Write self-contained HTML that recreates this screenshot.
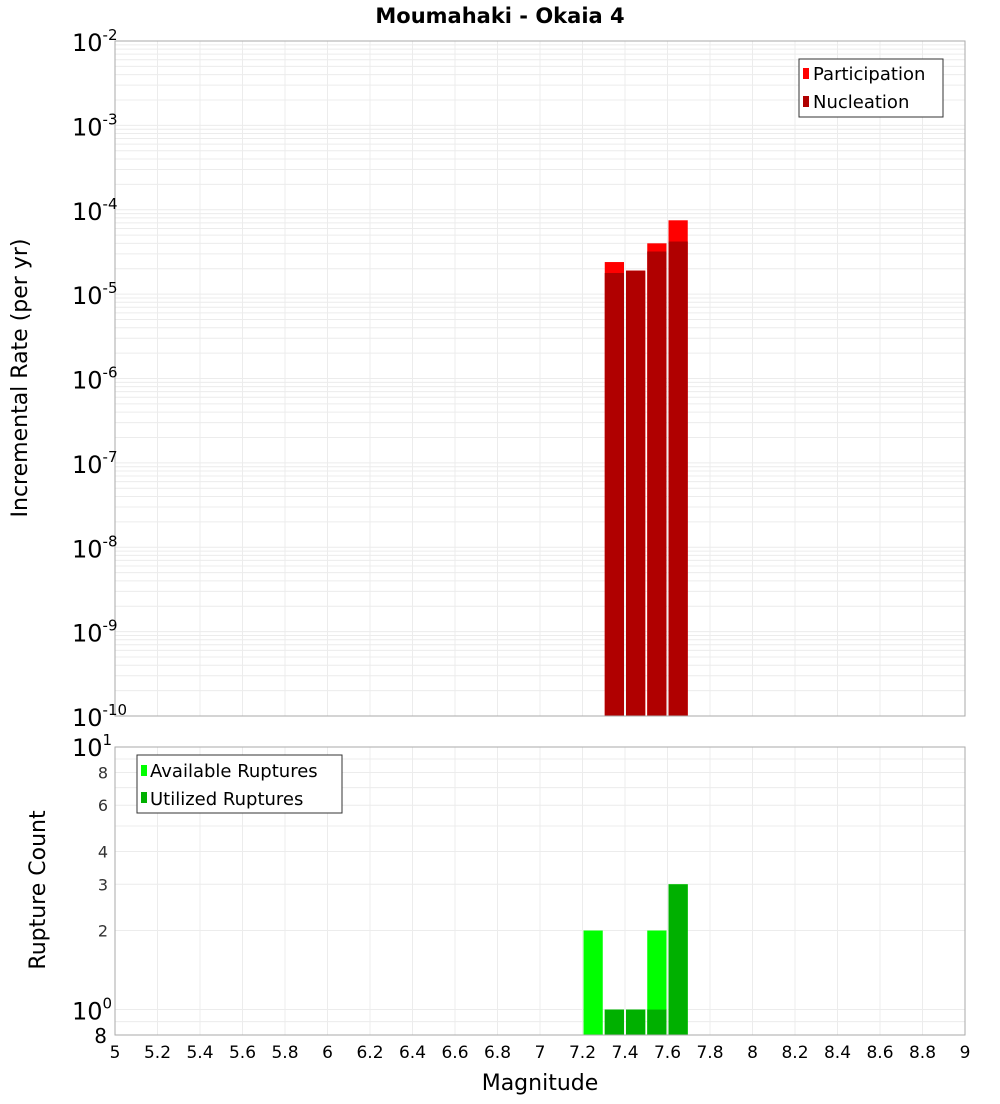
<!DOCTYPE html>
<html><head><meta charset="utf-8"><style>
body{margin:0;background:#fff;font-family:"DejaVu Sans","Liberation Sans",sans-serif}
svg text{font-family:"DejaVu Sans","Liberation Sans",sans-serif}
</style></head><body>
<svg id="c" width="1000" height="1100" xmlns="http://www.w3.org/2000/svg">
<text x="500" y="23" text-anchor="middle" font-size="21" font-weight="bold">Moumahaki - Okaia 4</text>
<text transform="translate(27,378) rotate(-90)" text-anchor="middle" font-size="22">Incremental Rate (per yr)</text>
<text transform="translate(45,890) rotate(-90)" text-anchor="middle" font-size="22">Rupture Count</text>
<text x="540" y="1090" text-anchor="middle" font-size="22">Magnitude</text>
<g id="g"></g>
</svg>
<script>
const magBins=[7.35,7.45,7.55,7.65];
const participation=[2.4e-5,1.9e-5,4.0e-5,7.5e-5];
const nucleation=[1.78e-5,1.9e-5,3.2e-5,4.2e-5];
const countBins=[7.25,7.35,7.45,7.55,7.65];
const available=[2,1,1,2,3];
const utilized=[0,1,1,1,3];
const xTicks=[5,5.2,5.4,5.6,5.8,6,6.2,6.4,6.6,6.8,7,7.2,7.4,7.6,7.8,8,8.2,8.4,8.6,8.8,9];
const rateExps=[-2,-3,-4,-5,-6,-7,-8,-9,-10];
const countTicks=[8,6,4,3,2];

const NS="http://www.w3.org/2000/svg",g=document.getElementById('g');
function el(t,a,txt){const e=document.createElementNS(NS,t);for(const k in a)e.setAttribute(k,a[k]);if(txt!==undefined)e.textContent=txt;g.appendChild(e);return e;}
const X0=115,X1=965;
const xs=m=>X0+(m-5)/4*(X1-X0);
const T0=41,T1=716;
const yT=v=>T1-(Math.log10(v)+10)/8*(T1-T0);
const B0=747,B1=1035,bLo=Math.log10(0.8);
const yB=v=>B1-(Math.log10(v)-bLo)/(1-bLo)*(B1-B0);
const bw=xs(5.1)-xs(5);

// top grid
for(let d=-10;d<-2;d++)for(let k=1;k<10;k++){const y=yT(k*Math.pow(10,d));let l=el('line',{x1:X0,x2:X1,y1:y,y2:y,stroke:'#ececec','stroke-width':1});}
for(const t of xTicks){for(const [a,b] of [[T0,T1],[B0,B1]]){let l=el('line',{x1:xs(t),x2:xs(t),y1:a,y2:b,stroke:'#ececec'});}}
for(const v of [0.9,1,2,3,4,5,6,7,8,9]){let l=el('line',{x1:X0,x2:X1,y1:yB(v),y2:yB(v),stroke:'#ececec'});}

// top bars
magBins.forEach((m,i)=>{
 let r=el('rect',{x:xs(m)-bw/2+1,y:yT(participation[i]),width:bw-2,height:T1-yT(participation[i]),fill:'#ff0000'});
 
 let n=el('rect',{x:xs(m)-bw/2+1,y:yT(nucleation[i]),width:bw-2,height:T1-yT(nucleation[i]),fill:'#b00000'});
 
});
countBins.forEach((m,i)=>{
 let r=el('rect',{x:xs(m)-bw/2+1,y:yB(available[i]),width:bw-2,height:B1-yB(available[i]),fill:'#00ff00'});
 
 if(utilized[i]>0){let n=el('rect',{x:xs(m)-bw/2+1,y:yB(utilized[i]),width:bw-2,height:B1-yB(utilized[i]),fill:'#00b000'});
 }
});
// frames
let f1=el('rect',{x:X0,y:T0,width:X1-X0,height:T1-T0,fill:'none',stroke:'#aaa'});
let f2=el('rect',{x:X0,y:B0,width:X1-X0,height:B1-B0,fill:'none',stroke:'#aaa'});
// top y labels
for(const e of rateExps){const y=yT(Math.pow(10,e));let t=el('text',{x:72,y:y+10,'font-size':24});
 
 t.innerHTML='10<tspan dy="-11" font-size="15">'+e+'</tspan>';}
// bottom y labels
let t1=el('text',{x:72,y:yB(10)+9,'font-size':24});t1.innerHTML='10<tspan dy="-11" font-size="15">1</tspan>';
let t0=el('text',{x:72,y:yB(1)+10,'font-size':24});t0.innerHTML='10<tspan dy="-11" font-size="15">0</tspan>';
let t8=el('text',{x:107,y:B1+8,'font-size':20,'text-anchor':'end'},'8');
for(const v of countTicks){let t=el('text',{x:108,y:yB(v)+6,'font-size':16,'text-anchor':'end',fill:'#333'},String(v));}
for(const v of xTicks){let t=el('text',{x:xs(v),y:1058,'font-size':17,'text-anchor':'middle'},String(v));}
// legends
let lg=el('rect',{x:799,y:59,width:144,height:58,fill:'#fff',stroke:'#333'});
let s1=el('rect',{x:803,y:68,width:6,height:11,fill:'#ff0000'});
let l1=el('text',{x:813,y:80,'font-size':18},'Participation');
let s2=el('rect',{x:803,y:96,width:6,height:11,fill:'#b00000'});
let l2=el('text',{x:813,y:108,'font-size':18},'Nucleation');
let lg2=el('rect',{x:137,y:755,width:205,height:58,fill:'#fff',stroke:'#333'});
let s3=el('rect',{x:141,y:765,width:6,height:11,fill:'#00ff00'});
let l3=el('text',{x:150,y:777,'font-size':18},'Available Ruptures');
let s4=el('rect',{x:141,y:792,width:6,height:11,fill:'#00b000'});
let l4=el('text',{x:150,y:805,'font-size':18},'Utilized Ruptures');
</script>
</body></html>
